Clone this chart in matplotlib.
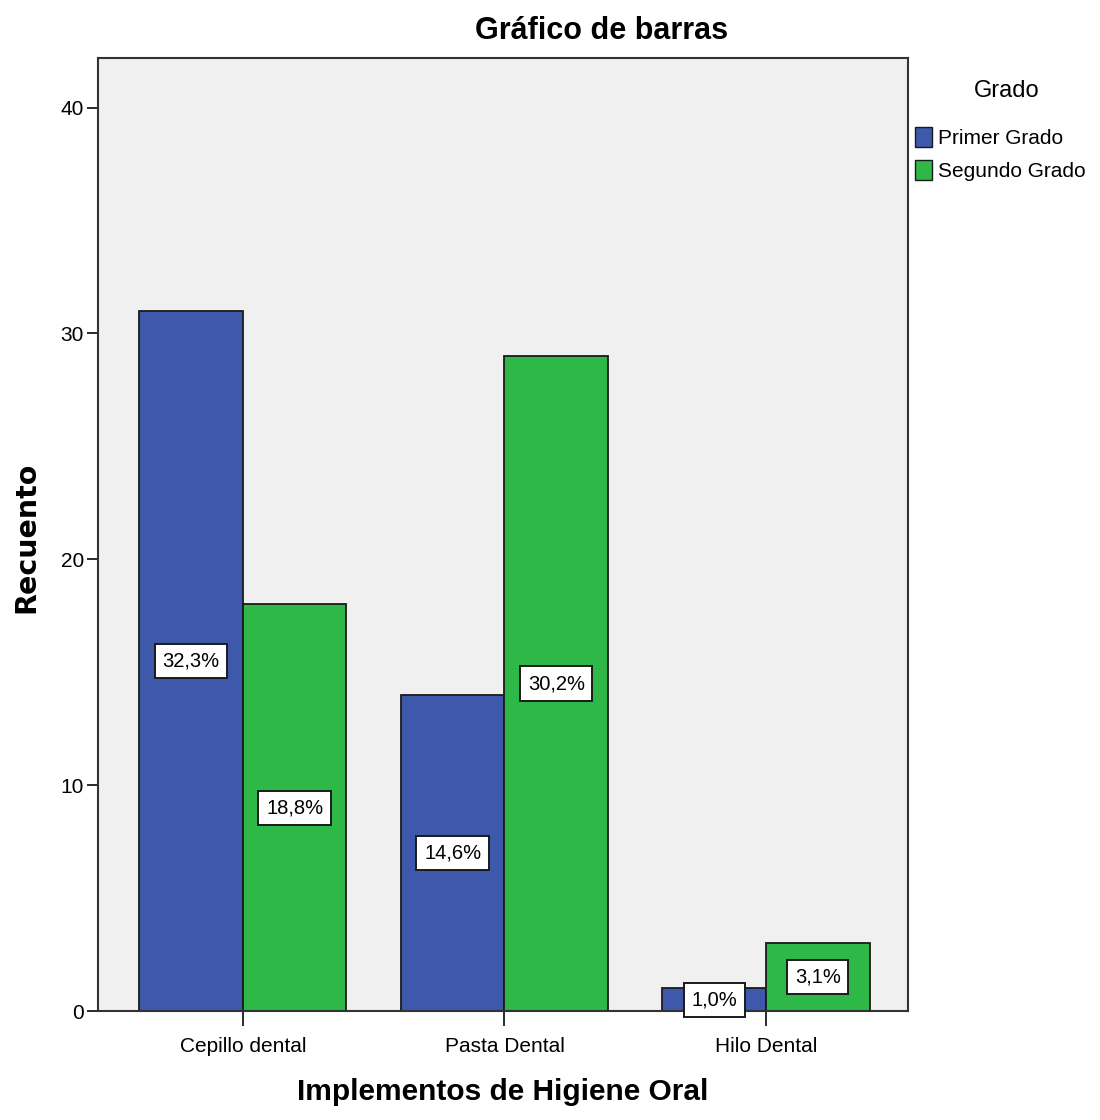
import matplotlib
matplotlib.use("Agg")
import matplotlib.pyplot as plt
from matplotlib.patches import Patch
import numpy as np

plt.rcParams['font.family'] = ['Liberation Sans', 'DejaVu Sans']

categories = ["Cepillo dental", "Pasta Dental", "Hilo Dental"]
series_names = ["Primer Grado", "Segundo Grado"]
primer = [31, 14, 1]
segundo = [18, 29, 3]
yticks = [0, 10, 20, 30, 40]

colors = ["#3E58AC", "#2EB848"]
edge = "#1a1a1a"
total = sum(primer) + sum(segundo)

fig = plt.figure(figsize=(11, 11.2), dpi=100)
ax = fig.add_axes([0.0891, 0.0973, 0.7364, 0.851])
ax.set_facecolor("#F0F0F0")

x = np.arange(len(categories))
w = 0.396
for i, (vals, col) in enumerate(zip([primer, segundo], colors)):
    xs = x + (i - 0.5) * w
    ax.bar(xs, vals, width=w, color=col, edgecolor=edge, linewidth=1.3, zorder=2)
    for xi, v in zip(xs, vals):
        pct = f"{100 * v / total:.1f}%".replace(".", ",")
        ax.text(xi, v / 2, pct, ha="center", va="center", fontsize=14.5, zorder=4, clip_on=False,
                bbox=dict(boxstyle="square,pad=0.38", fc="white", ec=edge, lw=1.4))

ax.set_xlim(-0.554, 2.543)
ax.set_ylim(0, 42.2)
ax.set_xticks(x)
ax.set_xticklabels(categories, fontsize=15)
ax.set_yticks(yticks)
ax.set_yticklabels([str(t) for t in yticks], fontsize=15)
ax.tick_params(axis="x", length=11, width=1.3, color=edge, pad=8)
ax.tick_params(axis="y", length=8, width=1.3, color=edge, pad=2)
for s in ax.spines.values():
    s.set_color("#333333")
    s.set_linewidth(1.5)

fig.text(0.547, 0.972, "Gráfico de barras", ha="center", va="center", fontsize=22, fontweight="bold")
fig.text(0.457, 0.025, "Implementos de Higiene Oral", ha="center", va="center", fontsize=21.5,
         fontweight="bold")
fig.text(0.024, 0.5205, "Recuento", ha="center", va="center", rotation=90, fontsize=20.5, fontweight="bold",
         family=['DejaVu Sans'])

# legend
fig.text(0.915, 0.919, "Grado", ha="center", va="center", fontsize=17)
handles = [Patch(facecolor=c, edgecolor=edge, label=n) for c, n in zip(colors, series_names)]
fig.legend(handles=handles, loc="upper left", bbox_to_anchor=(0.8315, 0.887),
           frameon=False, fontsize=15, handlelength=0.85, handleheight=1.1,
           handletextpad=0.25, labelspacing=0.6, borderaxespad=0, borderpad=0)

fig.savefig("out.png", dpi=100)
